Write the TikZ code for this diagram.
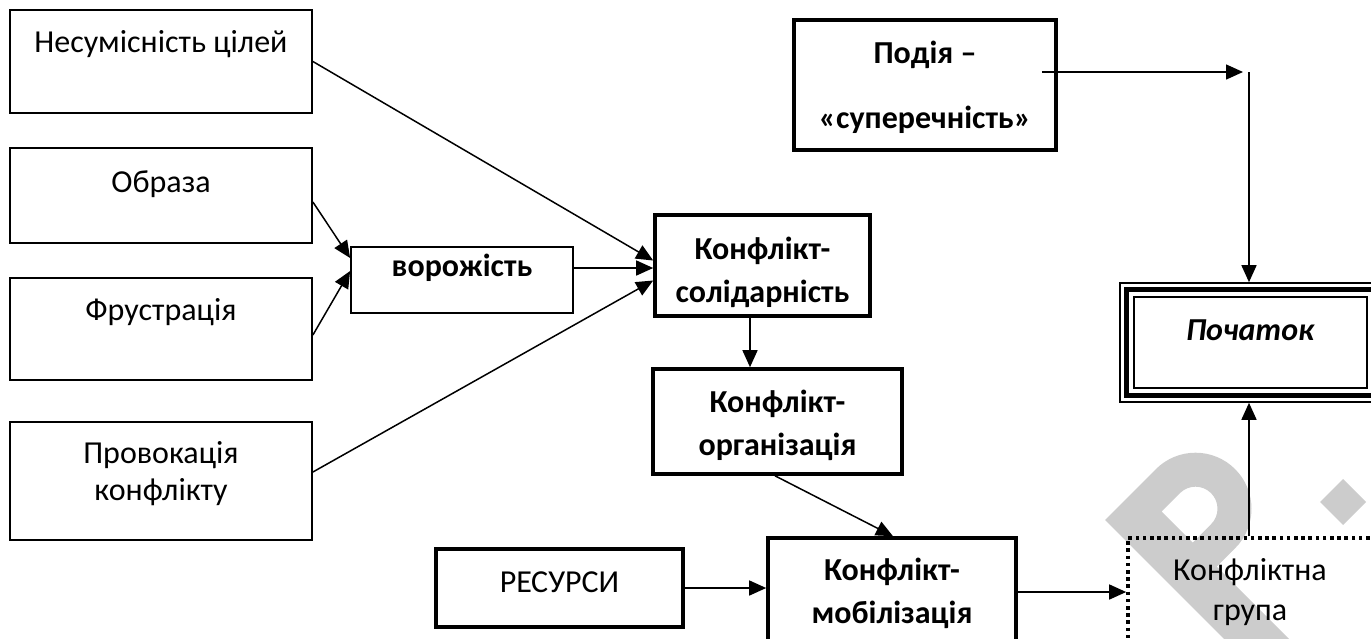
\documentclass[tikz,border=0pt]{standalone}
\usepackage{fontspec}
\setmainfont{Carlito}
\usetikzlibrary{arrows.meta,calc}

\begin{document}
\begin{tikzpicture}[x=1pt,y=-1pt,
  font=\fontsize{32}{38}\selectfont,
  sz/.style n args={2}{minimum width=#1pt,minimum height=#2pt},
  thinbox/.style={draw,line width=1.8pt,inner sep=0pt},
  thickbox/.style={draw,line width=3.6pt,inner sep=0pt},
  dotbox/.style={draw,line width=3.6pt,dash pattern=on 3.6pt off 3.6pt,inner sep=0pt},
  lbl/.style={anchor=base,inner sep=0pt},
  blbl/.style={lbl,font=\fontsize{32}{38}\selectfont\bfseries},
  arr/.style={line width=1.5pt,-{Triangle[length=17pt,width=15pt]}},
  wmark/.style={fill={rgb,255:red,204;green,204;blue,204},draw=none}
]
\useasboundingbox (0,0) rectangle (1371,638);
\clip (0,0) rectangle (1371,638);

% grey "P." mark in the lower right corner
\begin{scope}[shift={(1105,520)},x={(0.707pt,0.707pt)},y={(0.707pt,-0.707pt)}]
  \path[wmark,even odd rule]
    (0,0) -- (72,0) arc[start angle=-90,end angle=90,radius=56]
    -- (46,112) -- (46,330) -- (0,330) -- cycle
    (46,34) -- (72,34) arc[start angle=-90,end angle=90,radius=22]
    -- (46,78) -- cycle;
\end{scope}
\path[wmark] (1343,479) -- (1366,502) -- (1343,525) -- (1320,502) -- cycle;

% causes on the left
\node[thinbox,sz={302}{103}] (nes) at (161,61.5) {};
\node[lbl] at (161,52) {Несумісність цілей};
\node[thinbox,sz={302}{95}] (obr) at (161,195.5) {};
\node[lbl] at (161,192) {Образа};
\node[thinbox,sz={302}{102}] (fru) at (161,329) {};
\node[lbl] at (161,320) {Фрустрація};
\node[thinbox,sz={302}{118}] (pro) at (161,481) {};
\node[lbl] at (161,463) {Провокація};
\node[lbl] at (161,500) {конфлікту};

\node[thinbox,sz={222}{66}] (vor) at (462,280) {};
\node[blbl] at (462,276) {ворожість};

% stages of the conflict
\node[thickbox,sz={215}{101}] (sol) at (762.5,265.5) {};
\node[blbl] at (762.5,259) {Конфлікт-};
\node[blbl] at (762.5,302) {солідарність};

\node[thickbox,sz={249}{105}] (org) at (777.5,421.5) {};
\node[blbl] at (777.5,412) {Конфлікт-};
\node[blbl] at (777.5,455) {організація};

\node[thickbox,sz={247}{78}] (res) at (559.5,588) {};
\node[lbl] at (559.5,592) {РЕСУРСИ};

\node[thickbox,sz={248}{108}] (mob) at (892,592) {};
\node[blbl] at (892,580) {Конфлікт-};
\node[blbl] at (892,623) {мобілізація};

\node[thickbox,sz={262}{130}] (pod) at (925,85) {};
\node[blbl] at (925,63) {Подія –};
\node[blbl] at (925,128) {«суперечність»};

% triple-framed start box
\node[draw,line width=1.6pt,inner sep=0pt,sz={261}{119}] (poch) at (1250.5,342.5) {};
\draw[line width=4.5pt] ([shift={(7.5,7.5)}]poch.north west) rectangle ([shift={(-7.5,-7.5)}]poch.south east);
\draw[line width=1.6pt] ([shift={(15,15)}]poch.north west) rectangle ([shift={(-15,-15)}]poch.south east);
\node[lbl,font=\fontsize{32}{38}\selectfont\bfseries\itshape] at (1250,340) {Початок};

\node[dotbox,sz={272}{108}] (grp) at (1264,592) {};
\node[lbl] at (1250,580) {Конфліктна};
\node[lbl] at (1250,620) {група};

% connectors
\draw[arr] (nes.east) -- ([shift={(0,-5)}]sol.west);
\draw[arr] ([shift={(0,6.5)}]obr.east) -- ([shift={(0,-22)}]vor.west);
\draw[arr] ([shift={(0,6)}]fru.east) -- ([shift={(0,-9)}]vor.west);
\draw[arr] ([shift={(0,-12)}]vor.east) -- ([shift={(0,2.5)}]sol.west);
\draw[arr] ([shift={(0,-9)}]pro.east) -- ([shift={(0,15)}]sol.west);
\draw[arr] ([shift={(-12.5,0)}]sol.south) -- ([shift={(-12.5,0)}]sol.south |- org.north);
\draw[arr] ([shift={(-2.5,0)}]org.south) -- ([shift={(1,0)}]mob.north);
\draw[arr] (res.east) -- (res.east -| mob.west);
\draw[arr] (mob.east) -- (grp.west);

\coordinate (turn) at (1249,72);
\draw[arr] ([shift={(-16,-13)}]pod.east) -- ([shift={(-6,0)}]turn);
\draw[arr] (turn) -- (turn |- poch.north);
\draw[arr] (turn |- grp.north) -- (turn |- poch.south);
\end{tikzpicture}
\end{document}
